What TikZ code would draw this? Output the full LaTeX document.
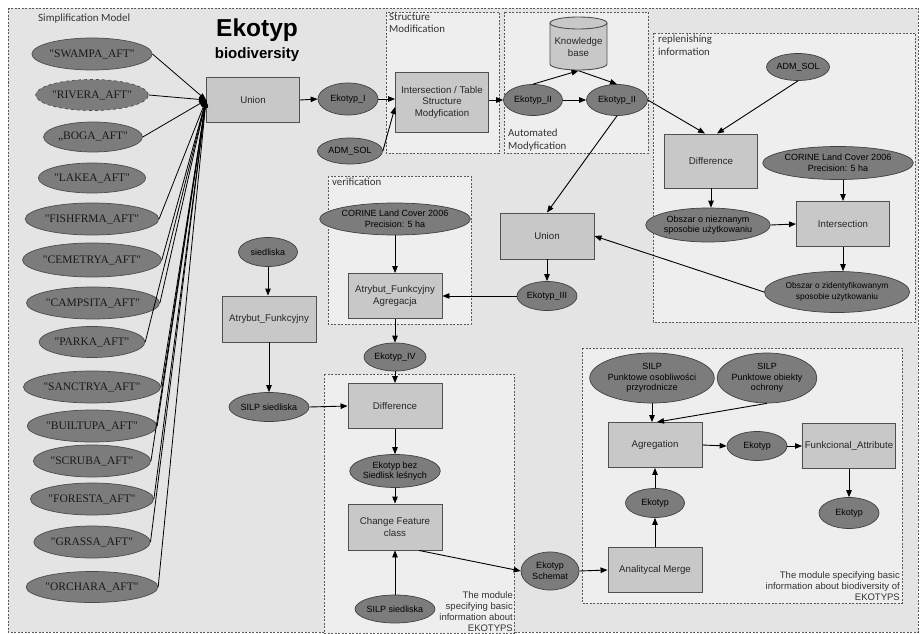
\documentclass[tikz,border=0pt]{standalone}
\usepackage{fontspec}
\setmainfont{Liberation Sans}
\newfontfamily\timesfont{Liberation Serif}
\newfontfamily\calfont{Carlito}
\usetikzlibrary{shapes.geometric,arrows.meta}
\definecolor{bgfill}{HTML}{E4E4E4}
\definecolor{modfill}{HTML}{EEEEEE}
\definecolor{opfill}{HTML}{C8C8C8}
\definecolor{opline}{HTML}{505050}
\definecolor{datafill}{HTML}{7C7C7C}
\definecolor{labeltext}{HTML}{333333}
\begin{document}
\begin{tikzpicture}[x=1pt,y=-1pt,
  op/.style={rectangle, draw=opline, fill=opfill, line width=0.9pt, inner sep=0pt,
    minimum width=94pt, minimum height=45pt, align=center, text=black!85,
    font=\fontsize{9.7}{11.5}\selectfont},
  data/.style={ellipse, draw=black!75, fill=datafill, line width=0.7pt, inner sep=0pt,
    align=center, text=black, font=\fontsize{9}{10.5}\selectfont},
  feat/.style={ellipse, draw=black!70, fill=datafill, line width=0.7pt, inner sep=0pt,
    minimum height=32pt, text=black!90, font=\timesfont\fontsize{11.5}{12}\selectfont},
  flow/.style={-{Triangle[length=7pt,width=5.5pt]}, line width=0.9pt, black},
  feed/.style={-{Triangle[length=7pt,width=5.5pt]}, line width=0.8pt, black},
  module/.style={draw=black!65, dashed, dash pattern=on 2pt off 1.5pt, fill=modfill, line width=0.6pt},
  modlabel/.style={inner sep=0pt, align=left, text=labeltext, font=\calfont\fontsize{10.8}{12.5}\selectfont},
  notelabel/.style={inner sep=0pt, align=right, text=labeltext, font=\fontsize{9.5}{11.2}\selectfont}]

\useasboundingbox (0,0) rectangle (921,634);
\fill[white] (0,0) rectangle (921,634);
\draw[module, fill=bgfill] (8,8) rectangle (918,632);

% dashed module frames
\draw[module] (386,12) rectangle (499,153);
\draw[module] (504,12) rectangle (648,153);
\draw[module] (653,33) rectangle (915,322);
\draw[module] (328,176) rectangle (471,324);
\draw[module] (324,374) rectangle (514,633);
\draw[module] (582,348) rectangle (902,603);

% titles and frame labels
\node[modlabel, anchor=base west, font=\calfont\fontsize{11}{12}\selectfont] (simpl) at (38,21.5) {Simplification Model};
\node[anchor=base, inner sep=0pt, font=\bfseries\fontsize{24.5}{26}\selectfont] (title) at (257,36.5) {Ekotyp};
\node[anchor=base, inner sep=0pt, font=\bfseries\fontsize{15}{17}\selectfont] (subtitle) at (257,59) {biodiversity};
\node[modlabel, anchor=north west] (smlabel) at (389,13) {Structure\\Modification};
\node[modlabel, anchor=south west] (amlabel) at (508,151) {Automated\\Modyfication};
\node[modlabel, anchor=north west] (rilabel) at (658,35) {replenishing\\information};
\node[modlabel, anchor=north west] (verlabel) at (332,178) {verification};
\node[notelabel, anchor=south east] (ekonote) at (513,632) {The module\\specifying basic\\information about\\EKOTYPS};
\node[notelabel, anchor=south east] (bionote) at (900,601) {The module specifying basic\\information about biodiversity of\\EKOTYPS};

% source feature classes
\node[feat, minimum width=113pt] (swampa) at (92,54) {"SWAMPA\_AFT"};
\node[feat, dashed, minimum width=105pt, minimum height=31pt] (rivera) at (92,95) {"RIVERA\_AFT"};
\node[feat, minimum width=98pt, minimum height=30pt] (boga) at (93,137) {„BOGA\_AFT"};
\node[feat, minimum width=102pt, minimum height=30pt] (lakea) at (92,178) {"LAKEA\_AFT"};
\node[feat, minimum width=121pt] (fishfrma) at (92,219) {"FISHFRMA\_AFT"};
\node[feat, minimum width=127pt, minimum height=34pt] (cemetrya) at (92,260) {"CEMETRYA\_AFT"};
\node[feat, minimum width=122pt] (campsita) at (93,303) {"CAMPSITA\_AFT"};
\node[feat, minimum width=101pt, minimum height=31pt] (parka) at (92,342) {"PARKA\_AFT"};
\node[feat, minimum width=126pt] (sanctrya) at (92,387) {"SANCTRYA\_AFT"};
\node[feat, minimum width=120pt] (builtupa) at (92,426) {"BUILTUPA\_AFT"};
\node[feat, minimum width=110pt] (scruba) at (92,461) {"SCRUBA\_AFT"};
\node[feat, minimum width=115pt] (foresta) at (92,499) {"FORESTA\_AFT"};
\node[feat, minimum width=110pt] (grassa) at (92,542) {"GRASSA\_AFT"};
\node[feat, minimum width=120pt, minimum height=31pt] (orchara) at (92,587) {"ORCHARA\_AFT"};

% upper chain
\node[op, minimum width=93pt] (union) at (253,100) {Union};
\node[data, minimum width=60pt, minimum height=32pt] (ekI) at (348,99) {Ekotyp\_I};
\node[data, minimum width=65pt, minimum height=26pt] (admL) at (350,151) {ADM\_SOL};
\node[op, minimum width=93pt, minimum height=60pt] (inter) at (442,102) {Intersection / Table\\Structure\\Modyfication};
\node[data, minimum width=59pt, minimum height=31pt] (ekIIa) at (533,100) {Ekotyp\_II};
\node[data, minimum width=61pt, minimum height=31pt] (ekIIb) at (617,100) {Ekotyp\_II};

% knowledge base cylinder
\filldraw[draw=opline, fill=opfill, line width=0.9pt]
  (550,23) -- (550,64) arc[start angle=180, end angle=0, x radius=28.5, y radius=6]
  -- (607,23) arc[start angle=0, end angle=-180, x radius=28.5, y radius=6] -- cycle;
\draw[opline, line width=0.9pt] (550,23) arc[start angle=180, end angle=0, x radius=28.5, y radius=6];
\node[inner sep=0pt, minimum width=57pt, minimum height=47pt, align=center, text=black!85,
  font=\fontsize{9.7}{11.5}\selectfont] (kb) at (578.5,47) {Knowledge\\base};

% replenishing information
\node[data, minimum width=63pt, minimum height=27pt] (admR) at (798,67) {ADM\_SOL};
\node[op, minimum width=93pt, minimum height=54pt] (diffR) at (711,161) {Difference};
\node[data, minimum width=117pt, minimum height=33pt] (corR) at (838,163) {CORINE Land Cover 2006\\Precision: 5 ha};
\node[data, minimum width=109pt, minimum height=34pt] (obszN) at (708,225) {Obszar o nieznanym\\sposobie użytkowaniu};
\node[op, minimum width=93pt] (interR) at (843,224) {Intersection};
\node[data, minimum width=121pt, minimum height=41pt, font=\fontsize{8.4}{10.5}\selectfont] (obszZ) at (837,292) {Obszar o zidentyfikowanym\\sposobie użytkowaniu};

% verification
\node[op, minimum height=46pt] (unionM) at (547,236) {Union};
\node[data, minimum width=60pt, minimum height=29pt] (ekIII) at (547,296) {Ekotyp\_III};
\node[data, minimum width=126pt, minimum height=32pt] (corL) at (395,219) {CORINE Land Cover 2006\\Precision: 5 ha};
\node[op] (atrAg) at (395,296) {Atrybut\_Funkcyjny\\Agregacja};
\node[data, minimum width=62pt, minimum height=28pt] (ekIV) at (395,357) {Ekotyp\_IV};

% habitat branch
\node[data, minimum width=59pt, minimum height=29pt] (sied) at (268,252) {siedliska};
\node[op, minimum height=46pt] (atrF) at (269,319) {Atrybut\_Funkcyjny};
\node[data, minimum width=76pt, minimum height=29pt] (silpL) at (269,407) {SILP siedliska};

% EKOTYPS module
\node[op] (diffM) at (395,406) {Difference};
\node[data, minimum width=84pt, minimum height=33pt] (ekBez) at (395,471) {Ekotyp bez\\Siedlisk leśnych};
\node[op, minimum height=46pt] (change) at (395,527) {Change Feature\\class};
\node[data, minimum width=76pt, minimum height=28pt] (silpB) at (395,609) {SILP siedliska};
\node[data, minimum width=58pt, minimum height=38pt] (schemat) at (550,571) {Ekotyp\\Schemat};

% biodiversity module
\node[data, minimum width=111pt, minimum height=50pt] (silpO) at (652,378) {SILP\\Punktowe osobliwości\\przyrodnicze};
\node[data, minimum width=91pt, minimum height=50pt] (silpOb) at (767,378) {SILP\\Punktowe obiekty\\ochrony};
\node[op] (agr) at (655,445) {Agregation};
\node[data, minimum width=60pt, minimum height=29pt] (ekA) at (757,446) {Ekotyp};
\node[op, minimum width=93pt] (funk) at (849,446) {Funkcional\_Attribute};
\node[data, minimum width=60pt, minimum height=31pt] (ekF) at (849,513) {Ekotyp};
\node[data, minimum width=59pt, minimum height=29pt] (ekM) at (655,503) {Ekotyp};
\node[op] (merge) at (655,570) {Analitycal Merge};

% feature classes into Union
\foreach \src in {swampa,rivera,boga,fishfrma,cemetrya,campsita,parka,sanctrya,builtupa,scruba,foresta,grassa,orchara}
  \draw[feed] (\src.east) -- (union.west);

% connectors
\draw[flow] (union.east) -- (ekI.west);
\draw[flow] (ekI.east) -- (ekI.east -| inter.west);
\draw[flow] (admL.east) -- ([yshift=-5pt]inter.west);
\draw[flow] (ekIIa.west -| inter.east) -- (ekIIa.west);
\draw[flow] (ekIIa.east) -- (ekIIb.west);
\draw[flow] (ekIIa.north) -- (kb.south);
\draw[flow] (kb.south) -- (ekIIb.north);
\draw[flow] (ekIIb.east) -- ([xshift=-6pt]diffR.north);
\draw[flow] (admR.south) -- ([xshift=6pt]diffR.north);
\draw[flow] (diffR.south) -- (diffR.south |- obszN.north);
\draw[flow] (obszN.east) -- (interR.west);
\draw[flow] (interR.north |- corR.south) -- (interR.north);
\draw[flow] (interR.south) -- (interR.south |- obszZ.north);
\draw[flow] (obszZ.west) -- (unionM.east);
\draw[flow] (ekIIb.south) -- (unionM.north);
\draw[flow] (unionM.south) -- (ekIII.north);
\draw[flow] (ekIII.west) -- (atrAg.east);
\draw[flow] (corL.south) -- (atrAg.north);
\draw[flow] (atrAg.south) -- (ekIV.north);
\draw[flow] (sied.south) -- (sied.south |- atrF.north);
\draw[flow] (atrF.south) -- (silpL.north);
\draw[flow] (silpL.east) -- (diffM.west);
\draw[flow] (ekIV.south) -- (diffM.north);
\draw[flow] (diffM.south) -- (ekBez.north);
\draw[flow] (ekBez.south) -- (change.north);
\draw[flow] (silpB.north) -- (change.south);
\draw[flow] ([xshift=24pt]change.south) -- (schemat.west);
\draw[flow] (schemat.east) -- (merge.west);
\draw[flow] (merge.north) -- (ekM.south);
\draw[flow] (ekM.north) -- (agr.south);
\draw[flow] (silpO.south) -- (silpO.south |- agr.north);
\draw[flow] (silpOb.south) -- ([xshift=2pt]agr.north);
\draw[flow] (agr.east) -- (ekA.west);
\draw[flow] (ekA.east) -- (funk.west);
\draw[flow] (funk.south) -- (ekF.north);
\end{tikzpicture}
\end{document}
